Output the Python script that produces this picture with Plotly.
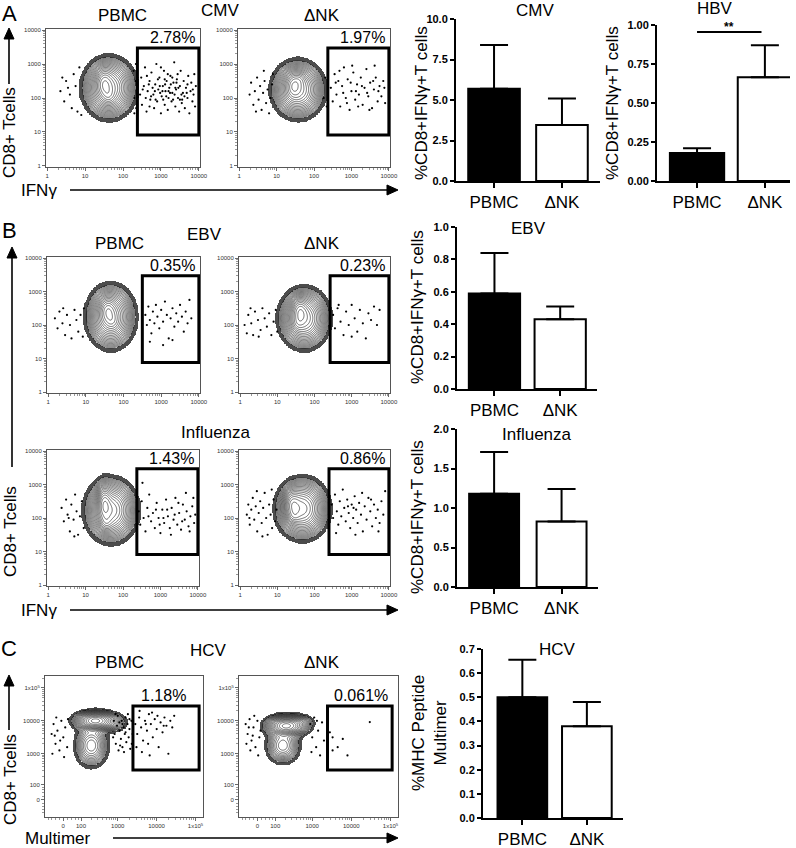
import numpy as np
import plotly.graph_objects as go

W, H = 796, 848
FONT = "Arial, Liberation Sans, sans-serif"

# ---------------- bar chart data ----------------
CATS = ["PBMC", "ΔNK"]
CMV_MEAN = [5.7, 3.45]
CMV_UPPER = [8.4, 5.1]
HBV_MEAN = [0.18, 0.665]
HBV_UPPER = [0.21, 0.87]
EBV_MEAN = [0.59, 0.43]
EBV_UPPER = [0.84, 0.51]
FLU_MEAN = [1.18, 0.83]
FLU_UPPER = [1.71, 1.24]
HCV_MEAN = [0.50, 0.38]
HCV_UPPER = [0.655, 0.48]

# ---------------- flow data (log10 units; HCV in arcsinh-decade units) ----------------
PCT_LABELS = ["2.78%", "1.97%", "0.35%", "0.23%", "1.43%", "0.86%", "1.18%", "0.061%"]
# gaussian population components: (cx, cy, sx, sy, weight)
POP_CMV_PBMC = [(1.63, 2.30, 0.29, 0.37, 1.0), (1.50, 2.45, 0.12, 0.25, 0.5), (1.62, 2.05, 0.10, 0.15, 0.25)]
POP_CMV_DNK = [(1.57, 2.25, 0.29, 0.35, 1.0), (1.45, 2.38, 0.12, 0.22, 0.5), (1.62, 2.55, 0.10, 0.12, 0.2)]
POP_EBV_PBMC = [(1.66, 2.25, 0.27, 0.39, 1.0), (1.58, 2.44, 0.12, 0.22, 0.5), (1.70, 2.10, 0.10, 0.15, 0.2)]
POP_EBV_DNK = [(1.72, 2.20, 0.28, 0.37, 1.0), (1.60, 2.44, 0.12, 0.22, 0.5), (1.55, 2.05, 0.10, 0.15, 0.2)]
POP_FLU_PBMC = [(1.68, 2.23, 0.29, 0.39, 1.0), (1.50, 2.45, 0.10, 0.30, 0.6), (1.55, 1.85, 0.10, 0.15, 0.25)]
POP_FLU_DNK = [(1.67, 2.28, 0.29, 0.37, 1.0), (1.40, 2.40, 0.12, 0.25, 0.5), (1.45, 2.05, 0.10, 0.12, 0.2)]
POP_HCV_PBMC = [(0.82, 2.40, 0.24, 0.14, 1.0), (0.72, 1.65, 0.20, 0.30, 0.3), (1.25, 2.35, 0.20, 0.15, 0.12)]
POP_HCV_DNK = [(0.74, 2.25, 0.24, 0.15, 1.0), (0.65, 1.65, 0.20, 0.25, 0.3), (1.15, 2.35, 0.15, 0.12, 0.10)]

GATE_CMV_PBMC = (2.38, 4.0, 0.91, 3.47)
GATE_CMV_DNK = (2.37, 4.0, 0.91, 3.47)
GATE_EBV_PBMC = (2.50, 4.0, 0.88, 3.47)
GATE_EBV_DNK = (2.42, 4.0, 0.88, 3.47)
GATE_FLU_PBMC = (2.37, 4.0, 0.91, 3.47)
GATE_FLU_DNK = (2.39, 4.0, 0.91, 3.47)
GATE_HCV_PBMC = (1.79, 3.49, 0.91, 2.85)
GATE_HCV_DNK = (1.79, 3.44, 0.91, 2.85)

DOTS_CMV_PBMC = [
    (2.45,2.1),(2.48,2.6),(2.5,1.8),(2.55,2.35),(2.58,2.9),(2.62,1.6),(2.65,2.2),(2.7,2.5),(2.72,1.95),(2.75,2.75),
    (2.8,2.1),(2.82,1.7),(2.85,2.4),(2.88,3.0),(2.9,1.9),(2.93,2.25),(2.96,2.6),(3.0,1.55),(3.02,2.05),(3.05,2.35),
    (3.08,2.8),(3.1,1.8),(3.12,2.2),(3.15,2.5),(3.18,1.65),(3.2,2.0),(3.22,2.3),(3.25,2.65),(3.28,1.9),(3.3,2.15),
    (3.33,2.45),(3.35,3.05),(3.38,1.75),(3.4,2.25),(3.42,2.55),(3.45,2.0),(3.48,1.6),(3.5,2.35),(3.52,2.8),(3.55,1.85),
    (3.58,2.15),(3.6,2.5),(3.63,1.7),(3.66,2.3),(3.7,2.0),(3.72,2.65),(3.75,1.55),(3.78,2.2),(3.8,2.45),(3.83,1.9),
    (3.86,2.1),(3.88,2.7),(3.9,1.75),(3.92,2.35),(2.6,2.0),(2.78,2.3),(2.98,2.15),(3.14,2.05),(3.26,2.4),(3.36,2.1),
    (3.46,2.3),(3.06,1.95),(3.18,2.7),(2.92,2.55),(3.62,2.05),(3.7,2.4),(2.7,1.75),(3.0,2.9),(3.44,2.7),(3.56,1.95),
    (2.52,2.25),(2.68,2.4),(2.84,2.2),(2.97,2.35),(3.11,2.4),(3.24,2.15),(3.32,1.95),(3.41,2.45),(3.54,2.1),(3.68,2.15),
    (2.86,1.95),(3.04,2.2),(3.2,2.2),(3.38,2.3),(3.5,1.95),(2.74,2.05),(3.1,2.55),(3.3,2.6),(3.84,2.25),(2.63,2.65),
    (0.35,2.2),(0.45,1.9),(0.5,2.5),(0.6,2.1),(0.65,1.7),(0.7,2.7),(0.75,2.35),(0.8,1.6),(0.85,2.9),(0.55,2.3),
    (0.9,1.5),(0.4,2.6),(2.3,2.0),(2.33,2.5),(2.35,1.7),(2.28,2.8),(2.36,2.25),(2.3,1.55),(2.34,3.0),(2.38,2.6)]
DOTS_CMV_DNK = [
    (2.45,2.3),(2.5,1.9),(2.55,2.7),(2.6,2.1),(2.65,2.5),(2.7,1.75),(2.75,2.35),(2.8,2.9),(2.85,2.0),(2.9,2.55),
    (2.95,1.65),(3.0,2.2),(3.05,2.75),(3.1,1.95),(3.15,2.4),(3.2,2.1),(3.25,2.6),(3.3,1.8),(3.35,2.3),(3.4,2.85),
    (3.45,2.05),(3.5,2.45),(3.55,1.7),(3.6,2.25),(3.65,2.6),(3.7,1.9),(3.75,2.35),(3.8,2.05),(3.85,2.5),(3.9,1.85),
    (2.58,2.45),(2.78,2.15),(2.98,2.45),(3.12,2.2),(3.28,2.35),(3.42,2.15),(3.58,2.5),(3.72,2.2),(2.88,1.85),(3.18,1.75),
    (3.48,1.65),(3.62,2.95),(2.68,2.8),(3.02,2.95),(3.88,2.3),
    (0.28,2.1),(0.32,2.45),(0.38,1.8),(0.42,2.2),(0.48,2.6),(0.52,1.95),(0.56,2.35),(0.6,1.65),(0.64,2.15),(0.68,2.5),
    (0.72,1.85),(0.76,2.25),(0.8,1.55),(0.84,2.0),(0.88,2.4),(0.45,1.6),(0.66,2.8),(0.9,2.7),
    (2.26,2.0),(2.3,2.6),(2.34,1.75),(2.38,2.3)]
DOTS_EBV_PBMC = [
    (2.58,2.3),(2.62,2.0),(2.66,2.55),(2.7,2.15),(2.74,1.75),(2.78,2.4),(2.82,2.05),(2.86,2.6),(2.9,2.25),(2.95,1.9),
    (3.0,2.45),(3.05,2.1),(3.1,2.7),(3.15,2.3),(3.2,1.6),(3.25,2.2),(3.3,2.5),(3.35,1.95),(3.4,2.35),(3.45,2.1),
    (3.5,2.6),(3.55,2.25),(3.6,1.8),(3.65,2.4),(3.7,2.05),(3.75,2.75),(3.8,2.2),(2.7,1.5),(3.05,1.4),(3.3,1.55),
    (0.18,2.2),(0.25,1.9),(0.3,2.4),(0.38,2.05),(0.45,1.7),(0.5,2.3),(0.58,2.0),(0.62,1.6),(0.7,2.45),(0.75,2.15),
    (0.8,1.8),(0.86,2.3),(0.92,1.65),(0.95,2.5),(0.4,2.5)]
DOTS_EBV_DNK = [
    (2.5,2.3),(2.55,1.9),(2.62,2.5),(2.7,2.1),(2.78,1.7),(2.85,2.4),(2.92,2.0),(3.0,2.6),(3.08,2.2),(3.15,1.8),
    (3.22,2.45),(3.3,2.05),(3.38,1.6),(3.45,2.35),(3.52,2.15),(3.6,2.55),(3.68,2.0),(3.75,2.45),(3.0,1.65),(2.65,2.6),
    (0.12,2.0),(0.18,1.75),(0.22,2.3),(0.3,2.05),(0.35,1.7),(0.4,2.4),(0.48,2.15),(0.55,1.85),(0.6,2.5),(0.66,2.2),
    (0.72,1.95),(0.78,2.35),(0.84,1.7),(0.9,2.1),(0.96,2.45),(1.0,1.8),(0.28,2.5),(0.5,1.65)]
DOTS_FLU_PBMC = [
    (2.42,2.2),(2.46,1.8),(2.5,2.5),(2.55,2.0),(2.6,1.6),(2.65,2.3),(2.7,2.7),(2.75,1.9),(2.8,2.15),(2.85,1.7),
    (2.9,2.45),(2.95,2.0),(3.0,1.55),(3.05,2.25),(3.1,1.85),(3.15,2.55),(3.2,2.05),(3.25,1.7),(3.3,2.3),(3.35,1.95),
    (3.4,2.6),(3.45,1.8),(3.5,2.15),(3.55,1.65),(3.6,2.4),(3.65,1.95),(3.7,2.2),(3.75,1.75),(3.8,2.05),(3.85,2.35),
    (3.9,1.85),(3.93,2.1),(2.52,3.05),(2.68,2.05),(2.98,1.8),(3.18,2.25),(3.38,2.1),(3.58,1.9),(3.78,1.6),(2.88,2.25),
    (3.08,2.0),(3.28,1.5),(3.48,2.45),(3.68,2.75),(3.88,2.6),
    (0.36,2.3),(0.42,1.9),(0.48,2.55),(0.52,2.1),(0.58,1.6),(0.62,2.4),(0.68,1.95),(0.72,2.7),(0.76,2.2),(0.8,1.5),
    (0.85,2.05),(0.9,2.5),(0.95,1.7),(0.55,2.0),(0.7,1.45)]
DOTS_FLU_DNK = [
    (2.46,2.4),(2.5,2.0),(2.55,2.7),(2.6,2.2),(2.64,1.8),(2.68,2.5),(2.72,2.05),(2.76,2.85),(2.8,2.3),(2.84,1.9),
    (2.88,2.55),(2.92,2.15),(2.96,1.7),(3.0,2.4),(3.04,2.0),(3.08,2.65),(3.12,2.25),(3.16,1.85),(3.2,2.45),(3.25,2.1),
    (3.3,1.6),(3.35,2.35),(3.4,1.95),(3.45,2.6),(3.5,2.2),(3.55,1.75),(3.6,2.4),(3.65,2.0),(3.7,2.25),(3.75,1.85),
    (3.8,2.5),(3.85,2.1),(3.9,2.8),(2.58,1.55),(2.9,2.35),(3.1,1.5),(3.28,2.75),(3.52,2.55),(3.72,1.6),(3.05,2.3),
    (0.18,2.1),(0.22,2.4),(0.26,1.8),(0.3,2.25),(0.34,2.6),(0.38,1.95),(0.42,2.35),(0.46,1.6),(0.5,2.15),(0.54,2.5),
    (0.58,1.85),(0.62,2.3),(0.66,2.75),(0.7,2.0),(0.74,1.5),(0.78,2.4),(0.82,2.1),(0.86,1.7),(0.9,2.55),(0.94,1.9),
    (0.98,2.25),(0.45,2.8),(0.6,1.45),(0.85,2.85),(0.25,2.0)]
DOTS_HCV_PBMC = [
    (1.85,2.3),(1.9,2.0),(1.95,2.5),(2.0,2.2),(2.05,1.8),(2.1,2.4),(2.15,2.1),(2.2,2.6),(2.25,2.3),(2.3,1.9),
    (2.35,2.45),(2.4,2.15),(2.45,1.6),(2.5,2.35),(2.55,2.05),(2.6,2.5),(2.65,2.25),(2.7,1.4),(2.75,2.4),(2.85,2.55),
    (1.88,1.6),(2.02,1.45),(2.18,1.7),(2.28,2.65),(1.96,2.7),(2.42,2.55),(2.12,2.3),(2.58,2.25),(2.8,2.2),(2.22,1.35),
    (1.3,2.4),(1.32,2.0),(1.35,1.7),(1.38,2.25),(1.4,2.55),(1.42,1.5),(1.45,2.1),(1.48,1.85),(1.5,2.4),(1.52,1.6),
    (1.55,2.2),(1.58,2.0),(1.6,2.5),(1.62,1.75),(1.65,2.3),(1.68,1.9),(1.7,2.15),(1.72,1.55),(1.75,2.4),(1.78,2.0),
    (1.34,2.6),(1.44,2.35),(1.56,1.45),(1.66,2.6),(1.76,1.7),(1.28,1.9),(1.46,1.65),(1.6,2.05),(1.7,2.45),(1.52,2.3),
    (-0.3,2.0),(-0.25,2.3),(-0.2,1.7),(-0.15,2.1),(-0.1,1.5),(-0.05,2.4),(0.0,1.9),(0.05,2.2),(0.1,1.6),(-0.28,1.4),
    (-0.18,2.5),(-0.08,1.8),(0.02,1.3),(0.12,2.45),(-0.22,1.95)]
DOTS_HCV_DNK = [
    (1.92,1.9),(2.87,2.36),(2.05,1.6),(2.18,1.85),(1.92,1.5),(1.85,2.05),(2.3,1.35),
    (1.35,2.3),(1.4,1.9),(1.45,2.5),(1.5,1.6),(1.55,2.1),(1.6,1.35),(1.65,2.35),(1.7,1.8),(1.38,1.45),(1.52,2.4),
    (-0.3,2.3),(-0.25,2.0),(-0.2,2.45),(-0.15,1.8),(-0.1,2.2),(-0.05,1.6),(0.0,2.4),(0.05,1.9),(-0.28,1.7),(-0.18,1.5),
    (-0.08,2.55),(0.02,1.35),(0.08,2.1),(-0.22,2.2),(-0.12,1.95)]

LOG_TICK_VALUES = [1, 10, 100, 1000, 10000]
HCV_TICK_VALUES = [0, 100, 1000, 10000, 100000]
HCV_TICK_TEXT = ["0", "100", "1000", "10000", "1x10<sup>5</sup>"]

# ---------------- layout geometry (pixels) ----------------
FLOW_BOXES = [(46, 200, 29, 167), (238, 390, 29, 167),
              (47, 200, 257, 393), (239, 390, 257, 393),
              (47, 199, 450, 586), (239, 390, 450, 586),
              (45, 203, 676, 817), (239, 398, 676, 817)]
BAR_BOXES = [(456, 600, 19, 181), (657, 790, 25, 181), (457, 597, 227, 389),
             (457, 598, 429, 587), (483, 623, 649, 818)]

fig = go.Figure()
layout = dict(template="none", width=W, height=H,
              margin=dict(l=0, r=0, t=0, b=0, pad=0, autoexpand=False),
              paper_bgcolor="white", plot_bgcolor="rgba(0,0,0,0)", showlegend=False,
              font=dict(family=FONT, color="black"))
annotations = []
shapes = []


def names(i):
    s = "" if i == 1 else str(i)
    return "xaxis" + s, "yaxis" + s, "x" + s, "y" + s


def hcv_t(v):
    return np.arcsinh(np.asarray(v, dtype=float) / 80.0) / np.log(10)


def flow_axis(domain, rng, tv, tt, minor, anchor):
    return dict(domain=domain, range=rng, anchor=anchor, showgrid=False, zeroline=False,
                showline=True, linecolor="#555", linewidth=1, mirror=True, automargin=False,
                ticks="outside", ticklen=3, tickwidth=0.8, tickcolor="#444",
                tickvals=list(tv), ticktext=tt, tickfont=dict(size=6, color="#333", family=FONT),
                minor=dict(tickvals=list(minor), ticks="outside", ticklen=2, tickwidth=0.6, tickcolor="#555"),
                fixedrange=True)


log_tv = np.log10(LOG_TICK_VALUES)
log_tt = [str(v) for v in LOG_TICK_VALUES]
log_minor = [np.log10(k * 10 ** d) for d in range(4) for k in range(2, 10)]
hcv_tv = hcv_t(HCV_TICK_VALUES)
hcv_minor = hcv_t([-80, -60, -40, -20, 20, 40, 60, 80] + [k * 10 ** d for d in range(2, 5) for k in range(2, 10)] + [200000])

flows = [
    (POP_CMV_PBMC, DOTS_CMV_PBMC, GATE_CMV_PBMC, 3.95),
    (POP_CMV_DNK, DOTS_CMV_DNK, GATE_CMV_DNK, 3.95),
    (POP_EBV_PBMC, DOTS_EBV_PBMC, GATE_EBV_PBMC, 3.95),
    (POP_EBV_DNK, DOTS_EBV_DNK, GATE_EBV_DNK, 3.95),
    (POP_FLU_PBMC, DOTS_FLU_PBMC, GATE_FLU_PBMC, 3.95),
    (POP_FLU_DNK, DOTS_FLU_DNK, GATE_FLU_DNK, 3.95),
    (POP_HCV_PBMC, DOTS_HCV_PBMC, GATE_HCV_PBMC, 3.2),
    (POP_HCV_DNK, DOTS_HCV_DNK, GATE_HCV_DNK, 3.38),
]

for k, (pop, dots, gate, lab_x) in enumerate(flows):
    i = k + 1
    xa, ya, xr, yr = names(i)
    x0, x1, y0, y1 = FLOW_BOXES[k]
    dx = [x0 / W, x1 / W]
    dy = [1 - y1 / H, 1 - y0 / H]
    if k < 6:
        xrng, yrng = [-0.03, 4.03], [-0.03, 4.03]
        layout[xa] = flow_axis(dx, xrng, log_tv, log_tt, log_minor, yr)
        layout[ya] = flow_axis(dy, yrng, log_tv, log_tt, log_minor, xr)
    else:
        xrng, yrng = [-0.47, 3.59], [-0.52, 3.76]
        layout[xa] = flow_axis(dx, xrng, hcv_tv, HCV_TICK_TEXT, hcv_minor, yr)
        layout[ya] = flow_axis(dy, yrng, hcv_tv, HCV_TICK_TEXT, hcv_minor, xr)
    gx = np.linspace(xrng[0], xrng[1], 220)
    gy = np.linspace(yrng[0], yrng[1], 220)
    X, Y = np.meshgrid(gx, gy)
    d = np.zeros_like(X)
    for cx, cy, sx, sy, w in pop:
        d += w * np.exp(-0.5 * ((X - cx) / sx) ** 2 - 0.5 * ((Y - cy) / sy) ** 2)
    L = np.log10(d / d.max() + 1e-12)
    rim = np.where((L > -1.8) & (L <= -1.4), 1.0, np.nan)
    fig.add_trace(go.Heatmap(x=gx, y=gy, z=rim, colorscale=[[0, "#111"], [1, "#111"]], showscale=False,
                             opacity=0.75, hoverinfo="skip", zsmooth=False, xaxis=xr, yaxis=yr))
    fig.add_trace(go.Contour(x=gx, y=gy, z=L, autocontour=False,
                             contours=dict(start=-1.4, end=-0.03, size=0.08, coloring="lines"),
                             line=dict(width=0.6), colorscale=[[0, "#111"], [1, "#111"]],
                             showscale=False, hoverinfo="skip", xaxis=xr, yaxis=yr))
    fig.add_trace(go.Scatter(x=[p[0] for p in dots], y=[p[1] for p in dots], mode="markers",
                             marker=dict(size=2.2, color="black"), hoverinfo="skip", xaxis=xr, yaxis=yr))
    gx0, gx1, gy0, gy1 = gate
    shapes.append(dict(type="rect", xref=xr, yref=yr, x0=gx0, x1=gx1, y0=gy0, y1=gy1,
                       line=dict(color="black", width=3), layer="above"))
    annotations.append(dict(xref=xr, yref=yr, x=lab_x, y=gy1, text=PCT_LABELS[k], showarrow=False,
                            xanchor="right", yanchor="bottom", font=dict(size=16, family=FONT, color="black")))

# ---------------- bar charts ----------------
bars = [
    (CMV_MEAN, CMV_UPPER, 10.0, 2.5, ".1f", [-0.56, 1.56], 0.76),
    (HBV_MEAN, HBV_UPPER, 1.0, 0.25, ".2f", [-0.59, 1.37], 0.8),
    (EBV_MEAN, EBV_UPPER, 1.0, 0.2, ".1f", [-0.57, 1.56], 0.78),
    (FLU_MEAN, FLU_UPPER, 2.0, 0.5, ".1f", [-0.55, 1.54], 0.74),
    (HCV_MEAN, HCV_UPPER, 0.7, 0.1, ".1f", [-0.61, 1.56], 0.77),
]
for k, (means, uppers, ymax, dt, fmt, xrng, bw) in enumerate(bars):
    i = 9 + k
    xa, ya, xr, yr = names(i)
    x0, x1, y0, y1 = BAR_BOXES[k]
    layout[xa] = dict(domain=[x0 / W, x1 / W], range=xrng, anchor=yr, type="category",
                      showline=True, linecolor="black", linewidth=2, ticks="outside", ticklen=5,
                      tickwidth=2, tickcolor="black", tickfont=dict(size=17, family=FONT, color="black"),
                      showgrid=False, zeroline=False, fixedrange=True, automargin=False)
    layout[ya] = dict(domain=[1 - y1 / H, 1 - y0 / H], range=[0, ymax], anchor=xr,
                      showline=True, linecolor="black", linewidth=2, ticks="outside", ticklen=4,
                      tickwidth=2, tickcolor="black", tick0=0, dtick=dt, tickformat=fmt,
                      tickfont=dict(size=11, family=FONT, color="black", weight="bold"),
                      showgrid=False, zeroline=False, fixedrange=True, automargin=False)
    fig.add_trace(go.Bar(x=CATS, y=means, width=bw,
                         marker=dict(color=["black", "white"], line=dict(color="black", width=2)),
                         error_y=dict(type="data", symmetric=False,
                                      array=[u - m for u, m in zip(uppers, means)], arrayminus=[0, 0],
                                      color="black", thickness=2, width=14),
                         hoverinfo="skip", xaxis=xr, yaxis=yr))

# significance bar on HBV
shapes.append(dict(type="line", xref="x10", yref="y10", x0=0.0, x1=0.95, y0=0.955, y1=0.955,
                   line=dict(color="black", width=2)))
annotations.append(dict(xref="x10", yref="y10", x=0.475, y=0.985, text="**", showarrow=False,
                        yanchor="middle", font=dict(size=12, family=FONT, color="black", weight="bold")))


def txt(s, x, y, size, angle=0, **kw):
    d = dict(xref="paper", yref="paper", x=x / W, y=1 - y / H, text=s, showarrow=False,
             xanchor="center", yanchor="middle", textangle=angle,
             font=dict(size=size, family=FONT, color="black"))
    d.update(kw)
    annotations.append(d)


def arrow(xt, yt, xs, ys, head=11, half=5):
    # line from tail (xs, ys) to tip (xt, yt), filled triangular head at the tip
    vx, vy = xt - xs, yt - ys
    n = (vx * vx + vy * vy) ** 0.5
    ux, uy = vx / n, vy / n
    bx, by = xt - ux * head, yt - uy * head
    shapes.append(dict(type="line", xref="paper", yref="paper", x0=xs / W, y0=1 - ys / H,
                       x1=bx / W, y1=1 - by / H, line=dict(color="black", width=1.6)))
    p1 = (bx - uy * half, by + ux * half)
    p2 = (bx + uy * half, by - ux * half)
    path = "M {:.5f},{:.5f} L {:.5f},{:.5f} L {:.5f},{:.5f} Z".format(
        xt / W, 1 - yt / H, p1[0] / W, 1 - p1[1] / H, p2[0] / W, 1 - p2[1] / H)
    shapes.append(dict(type="path", xref="paper", yref="paper", path=path,
                       fillcolor="black", line=dict(color="black", width=1)))


# panel letters
txt("A", 9, 13, 22)
txt("B", 9, 230, 22)
txt("C", 9, 648, 22)
# flow titles
txt("PBMC", 122, 16, 17); txt("CMV", 220, 10, 17); txt("ΔNK", 322, 16, 17)
txt("PBMC", 120, 243, 17); txt("EBV", 205, 235, 17); txt("ΔNK", 322, 243, 17)
txt("Influenza", 216, 433, 17)
txt("PBMC", 120, 662, 17); txt("HCV", 208, 650, 17); txt("ΔNK", 322, 662, 17)
# flow axis labels + arrows
txt("CD8+ Tcells", 10, 133, 17, -90)
arrow(9, 28, 9, 84)
txt("IFNγ", 39, 190, 17)
arrow(398, 190, 70, 190)
txt("CD8+ Tcells", 10, 532, 17, -90)
arrow(12, 247, 12, 467)
txt("IFNγ", 39, 610, 17)
arrow(398, 610, 70, 610)
txt("CD8+ Tcells", 10, 780, 17, -90)
arrow(9, 675, 9, 730)
txt("Multimer", 58, 838, 17)
arrow(398, 838, 113, 838)
# bar titles + y labels
txt("CMV", 535, 10, 17); txt("HBV", 715, 9, 17); txt("EBV", 528, 228, 17)
txt("Influenza", 537, 434, 17); txt("HCV", 557, 649, 17)
ylab = "%CD8+IFNγ+T cells"
txt(ylab, 421, 103, 17, -90)
txt(ylab, 612, 103, 17, -90)
txt(ylab, 417, 307, 17, -90)
txt(ylab, 417, 517, 17, -90)
txt("%MHC Peptide<br>Multimer", 429, 733, 17, -90)

layout["annotations"] = annotations
layout["shapes"] = shapes
fig.update_layout(**layout)
fig.write_html("out.html", config={"displayModeBar": False, "staticPlot": True},
               post_script="document.body.style.margin='0px';document.body.style.padding='0px';")
